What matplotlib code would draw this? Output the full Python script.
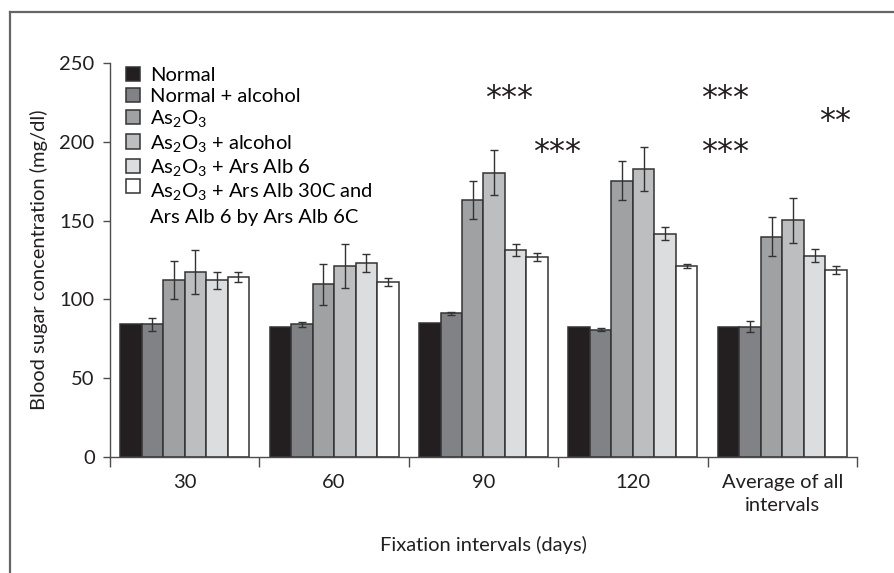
import matplotlib
matplotlib.use('Agg')
import matplotlib.pyplot as plt
from matplotlib.lines import Line2D
from matplotlib.patches import Rectangle
from matplotlib.legend_handler import HandlerPatch
import numpy as np

plt.rcParams['font.family'] = ['Lato', 'DejaVu Sans']
plt.rcParams['mathtext.fontset'] = 'custom'
plt.rcParams['mathtext.rm'] = 'Lato'
plt.rcParams['mathtext.it'] = 'Lato'
plt.rcParams['mathtext.default'] = 'regular'

# Daten
intervals = ['30', '60', '90', '120', 'Average of all\nintervals']
groups = [
    'Normal',
    'Normal + alcohol',
    'As$_2$O$_3$',
    'As$_2$O$_3$ + alcohol',
    'As$_2$O$_3$ + Ars Alb 6',
    'As$_2$O$_3$ + Ars Alb 30C and\nArs Alb 6 by Ars Alb 6C',
]
normal = [84.4, 82.7, 85.0, 82.3, 82.5]
normal_alc = [84.2, 84.2, 91.2, 80.8, 82.5]
as2o3 = [112.5, 109.6, 162.9, 175.3, 139.8]
as2o3_alc = [117.2, 121.2, 180.4, 182.7, 150.1]
alb6 = [112.0, 123.1, 131.3, 141.7, 127.7]
alb30 = [114.2, 111.0, 127.1, 121.2, 118.7]

err_normal = [0, 0, 0, 0, 0]
err_normal_alc = [4.0, 1.5, 1.0, 0.8, 3.5]
err_as2o3 = [12.0, 13.0, 12.2, 12.3, 12.3]
err_as2o3_alc = [14.0, 14.0, 14.2, 14.0, 14.2]
err_alb6 = [5.5, 5.5, 4.0, 4.0, 4.0]
err_alb30 = [3.0, 2.5, 2.5, 1.2, 2.7]

# Signifikanz-Sterne: (x, y, text)
stars_x = [2.17, 2.49, 3.62, 3.62, 4.35]
stars_y = [227.6, 192.9, 227.6, 192.9, 212.8]
stars_txt = ['***', '***', '***', '***', '**']

values = [normal, normal_alc, as2o3, as2o3_alc, alb6, alb30]
errors = [err_normal, err_normal_alc, err_as2o3, err_as2o3_alc, err_alb6, err_alb30]
bar_colors = ['#231f20', '#808285', '#a0a1a3', '#bcbec0', '#dcdddf', '#ffffff']

edge = '#333333'
axis_col = '#4d4d4d'
fs = 14.5

fig = plt.figure(figsize=(8.95, 5.73), dpi=100)
ax = fig.add_axes([110 / 895, 1 - 457 / 573, (857 - 110) / 895, (457 - 63) / 573])

x = np.arange(len(intervals))
w = 0.1438
handles = []
for j, (vals, errs, col) in enumerate(zip(values, errors, bar_colors)):
    pos = x + (j - 2.5) * w
    bars = ax.bar(pos, vals, width=w, color=col, edgecolor=edge, linewidth=1.1,
                  label=groups[j], zorder=2)
    handles.append(bars.patches[0])
    if any(errs):
        ax.errorbar(pos, vals, yerr=errs, fmt='none', ecolor=edge,
                    elinewidth=1.0, capsize=2.7, capthick=1.0, zorder=3)

for sx, sy, st in zip(stars_x, stars_y, stars_txt):
    ax.text(sx, sy, st, ha='center', va='center', fontsize=23,
            color='#231f20', family='DejaVu Sans')

ax.set_xlim(-0.5, 4.5)
ax.set_ylim(0, 250)
ax.set_yticks([0, 50, 100, 150, 200, 250])
ax.tick_params(axis='y', direction='out', length=5, width=1, color=axis_col,
               labelsize=fs, pad=6, labelcolor='#231f20')

# Kategoriegrenzen als Haupt-Ticks, Beschriftung mittig
ax.set_xticks(np.arange(-0.5, 5.0, 1.0))
ax.set_xticklabels([])
ax.tick_params(axis='x', which='major', direction='out', length=7, width=1, color=axis_col)
ax.set_xticks(x, minor=True)
ax.set_xticklabels(intervals, minor=True, fontsize=fs, color='#231f20', linespacing=1.45)
ax.tick_params(axis='x', which='minor', length=0, pad=12)

for s in ['top', 'right']:
    ax.spines[s].set_visible(False)
for s in ['left', 'bottom']:
    ax.spines[s].set_color(axis_col)
    ax.spines[s].set_linewidth(1.0)

ax.set_ylabel('Blood sugar concentration (mg/dl)', fontsize=fs, color='#231f20', labelpad=8)
ax.set_xlabel('Fixation intervals (days)', fontsize=fs, color='#231f20', labelpad=16)


# letztes Kästchen auf Höhe der ersten Textzeile
def top_square(legend, orig_handle, xdescent, ydescent, width, height, fontsize):
    return Rectangle((-xdescent, -ydescent + 12.5), width, height)


leg = ax.legend(handles, groups, loc='upper left', bbox_to_anchor=(0.01, 1.01),
                frameon=False, fontsize=fs,
                handlelength=0.7, handleheight=0.7, handletextpad=0.5,
                labelspacing=0.17, borderaxespad=0,
                handler_map={handles[-1]: HandlerPatch(patch_func=top_square)})
for p in leg.get_patches():
    p.set_edgecolor(edge)
    p.set_linewidth(1.1)
for t in leg.get_texts():
    t.set_linespacing(1.45)

# Rahmen (oben und links)
fx = 10 / 895
fy = 1 - 12 / 573
fig.add_artist(Line2D([fx, 1], [fy, fy], transform=fig.transFigure, color='#666666', lw=1.6))
fig.add_artist(Line2D([fx, fx], [0, fy], transform=fig.transFigure, color='#666666', lw=1.6))

fig.savefig('out.png', dpi=100)
